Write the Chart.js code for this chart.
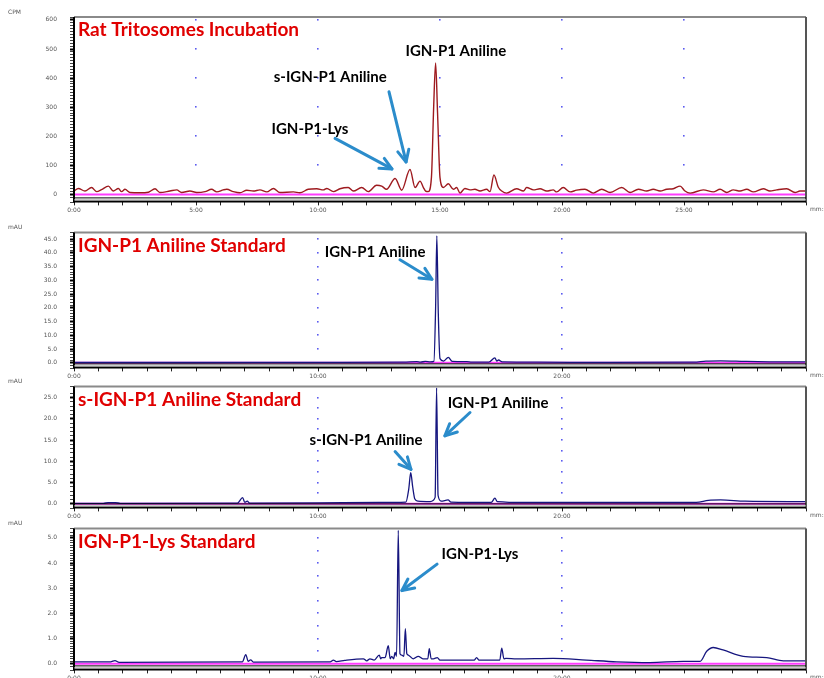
<!DOCTYPE html>
<html>
<head>
<meta charset="utf-8">
<script src="https://cdn.jsdelivr.net/npm/chart.js@4.4.0/dist/chart.umd.min.js"></script>
<style>
  html, body { margin: 0; padding: 0; background: #fff; overflow: hidden; }
  body { width: 824px; height: 678px; position: relative; }
  canvas { position: absolute; left: 0; }
</style>
</head>
<body>
<canvas id="p1" width="824" height="219" style="top:0px"></canvas>
<canvas id="p2" width="824" height="169" style="top:216px"></canvas>
<canvas id="p3" width="824" height="155" style="top:370px"></canvas>
<canvas id="p4" width="824" height="175" style="top:512px"></canvas>
<script>
// retention time (min) and detector response
const p1Time = [0.00,0.18,0.45,0.72,0.93,1.13,1.41,1.61,1.82,1.95,2.09,2.30,2.70,3.05,3.32,3.52,3.93,4.21,4.41,4.75,
  5.03,5.37,5.64,5.85,6.12,6.26,6.53,6.80,7.08,7.35,7.62,7.90,8.17,8.44,8.99,9.26,9.60,9.95,10.22,10.36,
  10.63,10.90,11.24,11.45,11.79,12.06,12.40,12.61,12.81,13.16,13.43,13.77,13.98,14.18,14.32,14.41,14.52,14.65,14.74,14.82,
  14.90,15.00,15.14,15.34,15.55,15.68,15.82,16.02,16.23,16.43,16.64,16.91,17.05,17.21,17.39,17.53,17.73,18.14,18.42,18.55,
  18.83,19.10,19.37,19.64,19.78,20.05,20.33,20.60,20.94,21.28,21.63,21.97,22.45,22.79,23.13,23.47,23.74,24.02,24.29,24.56,
  24.84,25.04,25.25,25.79,26.20,26.48,26.75,27.02,27.30,27.57,27.84,28.25,28.52,28.80,29.21,29.55,29.75,30.00];
const p1Cpm = [12,21,12,24,10,17,29,12,21,10,18,7,6,8,20,7,12,16,7,12,
  7,10,18,9,16,18,10,6,15,12,16,9,21,7,9,6,18,20,16,21,
  10,20,24,12,24,10,32,29,18,55,15,86,24,46,24,12,10,60,300,452,
  280,58,24,37,18,24,5,21,16,18,12,18,10,67,25,12,5,20,12,24,
  16,20,12,16,9,24,9,15,18,5,18,7,24,7,18,12,18,12,18,20,
  29,12,5,16,9,18,7,16,12,18,9,20,12,16,20,7,12,12];

const p2Time = [0.0,5.0,10.0,13.5,14.05,14.2,14.4,14.6,14.75,14.82,14.87,14.93,15.0,15.15,15.34,15.5,16.1,16.3,17.0,17.25,
  17.33,17.4,17.55,19.0,22.0,25.4,25.9,26.5,27.5,28.5,30.0];
const p2Mau = [0.1,0.1,0.15,0.2,0.45,0.25,0.5,0.3,0.5,20,46.2,18,1.5,0.6,2.0,0.5,0.4,0.2,0.2,1.8,
  0.6,1.0,0.3,0.2,0.15,0.2,0.6,0.7,0.5,0.35,0.3];

const p3Time = [0.0,1.2,1.4,1.7,1.9,6.7,6.91,7.0,7.1,7.2,10.0,12.5,13.6,13.72,13.8,13.88,13.97,14.1,14.6,14.8,
  14.86,14.92,15.05,15.33,15.45,17.1,17.25,17.35,18.5,25.5,26.0,26.5,27.5,30.0];
const p3Mau = [0.1,0.1,0.25,0.25,0.1,0.15,1.45,0.3,0.6,0.15,0.2,0.3,0.4,3.5,7.3,4.0,1.1,0.6,0.5,1.5,
  27.3,2.0,0.6,0.9,0.4,0.3,1.3,0.5,0.3,0.3,0.8,0.9,0.6,0.5];

const p4Time = [0.0,1.5,1.68,1.85,6.9,7.04,7.14,7.24,7.35,10.5,10.63,10.75,11.1,11.86,12.0,12.13,12.3,12.51,12.57,12.61,
  12.75,12.88,12.96,13.02,13.1,13.16,13.22,13.29,13.36,13.43,13.52,13.58,13.64,13.70,13.9,14.11,14.3,14.5,14.56,14.64,
  14.73,14.89,15.0,16.4,16.5,16.6,17.45,17.53,17.62,17.7,18.14,19.64,21.0,22.24,23.6,24.97,25.66,25.93,26.2,26.6,
  27.43,28.39,29.07,30.0];
const p4Mau = [0.08,0.08,0.13,0.06,0.08,0.37,0.1,0.16,0.07,0.08,0.15,0.09,0.14,0.2,0.12,0.2,0.15,0.35,0.2,0.25,
  0.25,0.72,0.2,0.3,0.2,0.45,0.3,5.3,0.4,0.35,0.3,1.4,0.4,0.35,0.2,0.3,0.2,0.2,0.6,0.2,
  0.2,0.25,0.15,0.15,0.25,0.15,0.15,0.62,0.2,0.22,0.2,0.22,0.15,0.08,0.05,0.1,0.1,0.5,0.65,0.55,
  0.3,0.25,0.12,0.12];

const panelTitles = ['Rat Tritosomes Incubation', 'IGN-P1 Aniline Standard', 's-IGN-P1 Aniline Standard', 'IGN-P1-Lys Standard'];
const peakAniline = 'IGN-P1 Aniline';
const peakSAniline = 's-IGN-P1 Aniline';
const peakLys = 'IGN-P1-Lys';

const decor = {
  id: 'decor',
  beforeDatasetsDraw(chart, args, o) {
    const ctx = chart.ctx, sx = chart.scales.x, sy = chart.scales.y;
    ctx.save();
    ctx.fillStyle = '#5b5bf0';
    (o.dotX || []).forEach(t => {
      (o.dotY || []).forEach(v => {
        ctx.fillRect(Math.round(sx.getPixelForValue(t)) - 1, Math.round(sy.getPixelForValue(v)) - 1, 1.6, 1.6);
      });
    });
    ctx.restore();
  },
  afterDatasetsDraw(chart, args, o) {
    const ctx = chart.ctx, a = chart.chartArea, sx = chart.scales.x, sy = chart.scales.y;
    ctx.save();
    // frame
    ctx.lineWidth = 2;
    ctx.strokeStyle = '#8a8a8a';
    ctx.beginPath(); ctx.moveTo(a.left, a.top); ctx.lineTo(a.right, a.top); ctx.stroke();
    ctx.strokeStyle = '#555';
    ctx.beginPath(); ctx.moveTo(a.right, a.top); ctx.lineTo(a.right, a.bottom); ctx.stroke();
    ctx.strokeStyle = '#000';
    ctx.beginPath(); ctx.moveTo(a.left, a.top); ctx.lineTo(a.left, a.bottom); ctx.stroke();
    ctx.beginPath(); ctx.moveTo(a.left, a.bottom - 1); ctx.lineTo(a.right, a.bottom - 1); ctx.stroke();
    ctx.lineWidth = 1;
    ctx.beginPath(); ctx.moveTo(a.left, a.bottom - 4.5); ctx.lineTo(a.right, a.bottom - 4.5); ctx.stroke();
    ctx.strokeStyle = '#aaa';
    ctx.beginPath(); ctx.moveTo(a.left, a.bottom - 2.5); ctx.lineTo(a.right, a.bottom - 2.5); ctx.stroke();

    // units
    ctx.fillStyle = '#555';
    ctx.font = '6px "DejaVu Sans"';
    ctx.textBaseline = 'middle';
    ctx.textAlign = 'left';
    ctx.fillText(o.unit, 8, a.top - 5);
    ctx.fillText('mm:', a.right + 4, a.bottom + 7);

    // title
    ctx.fillStyle = '#e00000';
    ctx.font = 'bold 19px Lato';
    ctx.fillText(o.title, a.left + 4, a.top + 13);

    // peak labels
    ctx.fillStyle = '#000';
    ctx.font = 'bold 15px Lato';
    ctx.textAlign = 'center';
    (o.labels || []).forEach(l => {
      ctx.fillText(l.text, sx.getPixelForValue(l.t), sy.getPixelForValue(l.v));
    });

    // arrows
    ctx.strokeStyle = '#2b8ccb';
    ctx.lineWidth = 3;
    ctx.lineCap = 'round';
    ctx.lineJoin = 'round';
    (o.arrows || []).forEach(r => {
      const x1 = sx.getPixelForValue(r.t1), y1 = sy.getPixelForValue(r.v1);
      const x2 = sx.getPixelForValue(r.t2), y2 = sy.getPixelForValue(r.v2);
      const ang = Math.atan2(y2 - y1, x2 - x1), h = 13;
      ctx.beginPath(); ctx.moveTo(x1, y1); ctx.lineTo(x2, y2); ctx.stroke();
      ctx.beginPath();
      ctx.moveTo(x2 - h * Math.cos(ang - 0.45), y2 - h * Math.sin(ang - 0.45));
      ctx.lineTo(x2, y2);
      ctx.lineTo(x2 - h * Math.cos(ang + 0.45), y2 - h * Math.sin(ang + 0.45));
      ctx.stroke();
    });
    ctx.restore();
  }
};
Chart.register(decor);

function isMult(v, m) {
  return Math.abs(v - Math.round(v / m) * m) < 1e-6;
}

function buildPanel(id, p) {
  const pts = p.times.map((t, i) => ({ x: t, y: p.values[i] }));
  return new Chart(document.getElementById(id), {
    type: 'line',
    data: {
      datasets: [
        { data: pts, borderColor: p.color, borderWidth: p.lineWidth, pointRadius: 0, cubicInterpolationMode: 'monotone' },
        { data: [{ x: 0, y: 0 }, { x: 30, y: 0 }], borderColor: '#ff3cff', borderWidth: 2, pointRadius: 0 }
      ]
    },
    options: {
      responsive: false,
      animation: false,
      events: [],
      layout: { padding: { top: p.padTop, left: 0, right: 18, bottom: 0 } },
      plugins: {
        legend: { display: false },
        tooltip: { enabled: false },
        decor: { title: p.title, unit: p.unit, labels: p.labels, arrows: p.arrows, dotX: p.dotX, dotY: p.dotY }
      },
      scales: {
        x: {
          type: 'linear', min: 0, max: 30,
          afterFit: s => { s.height = 14; },
          border: { display: false },
          grid: { drawOnChartArea: false, tickLength: 3, color: '#222' },
          ticks: {
            stepSize: 1, autoSkip: false, maxRotation: 0, padding: 1,
            color: '#555', font: { size: 6, family: 'DejaVu Sans' },
            callback: v => (isMult(v, p.xLabelEvery) && v < 30 ? v + ':00' : '')
          }
        },
        y: {
          min: p.yMin, max: p.yMax,
          afterFit: s => { s.width = 74; },
          border: { display: false },
          grid: {
            drawOnChartArea: false, tickLength: 4,
            tickColor: c => (isMult(c.tick.value, p.yMajor) ? '#000' : '#444'),
            tickWidth: c => (isMult(c.tick.value, p.yMajor) ? 2 : 1)
          },
          ticks: {
            stepSize: p.yMinor, autoSkip: false, padding: 13,
            color: '#555', font: { size: 6, family: 'DejaVu Sans' },
            callback: v => (isMult(v, p.yMajor) && v >= 0 ? v.toFixed(p.decimals) : '')
          }
        }
      }
    }
  });
}

buildPanel('p1', {
  times: p1Time, values: p1Cpm, color: '#9e1a1f', lineWidth: 1.4,
  padTop: 17, yMin: -27, yMax: 610, yMajor: 100, yMinor: 10, decimals: 0, xLabelEvery: 5,
  unit: 'CPM', title: panelTitles[0],
  dotX: [5, 10, 15, 20, 25], dotY: [100, 200, 300, 400, 500, 600],
  labels: [
    { text: peakAniline, t: 15.65, v: 491 },
    { text: peakSAniline, t: 10.5, v: 403 },
    { text: peakLys, t: 9.67, v: 224 }
  ],
  arrows: [
    { t1: 10.7, v1: 193, t2: 13.03, v2: 88 },
    { t1: 12.91, v1: 353, t2: 13.61, v2: 112 }
  ]
});

buildPanel('p2', {
  times: p2Time, values: p2Mau, color: '#16167f', lineWidth: 1.3,
  padTop: 10, yMin: -2.05, yMax: 47.4, yMajor: 5, yMinor: 1, decimals: 1, xLabelEvery: 10,
  unit: 'mAU', title: panelTitles[1],
  dotX: [10, 20], dotY: [5, 10, 15, 20, 25, 30, 35, 40, 45],
  labels: [{ text: peakAniline, t: 12.34, v: 40.2 }],
  arrows: [{ t1: 13.36, v1: 37.5, t2: 14.67, v2: 30.4 }]
});

buildPanel('p3', {
  times: p3Time, values: p3Mau, color: '#16167f', lineWidth: 1.3,
  padTop: 10, yMin: -1.1, yMax: 27.6, yMajor: 5, yMinor: 1, decimals: 1, xLabelEvery: 10,
  unit: 'mAU', title: panelTitles[2],
  dotX: [10, 20], dotY: [2.5, 5, 7.5, 10, 12.5, 15, 17.5, 20, 22.5, 25],
  labels: [
    { text: peakAniline, t: 17.38, v: 23.7 },
    { text: peakSAniline, t: 11.97, v: 14.9 }
  ],
  arrows: [
    { t1: 13.16, v1: 12.3, t2: 13.81, v2: 8.1 },
    { t1: 16.23, v1: 21.5, t2: 15.2, v2: 16.0 }
  ]
});

buildPanel('p4', {
  times: p4Time, values: p4Mau, color: '#16167f', lineWidth: 1.3,
  padTop: 10, yMin: -0.26, yMax: 5.37, yMajor: 1, yMinor: 0.1, decimals: 1, xLabelEvery: 10,
  unit: 'mAU', title: panelTitles[3],
  dotX: [10, 20], dotY: [0.5, 1, 1.5, 2, 2.5, 3, 3.5, 4, 4.5, 5],
  labels: [{ text: peakLys, t: 16.64, v: 4.37 }],
  arrows: [{ t1: 14.88, v1: 3.96, t2: 13.44, v2: 2.91 }]
});
</script>
</body>
</html>
